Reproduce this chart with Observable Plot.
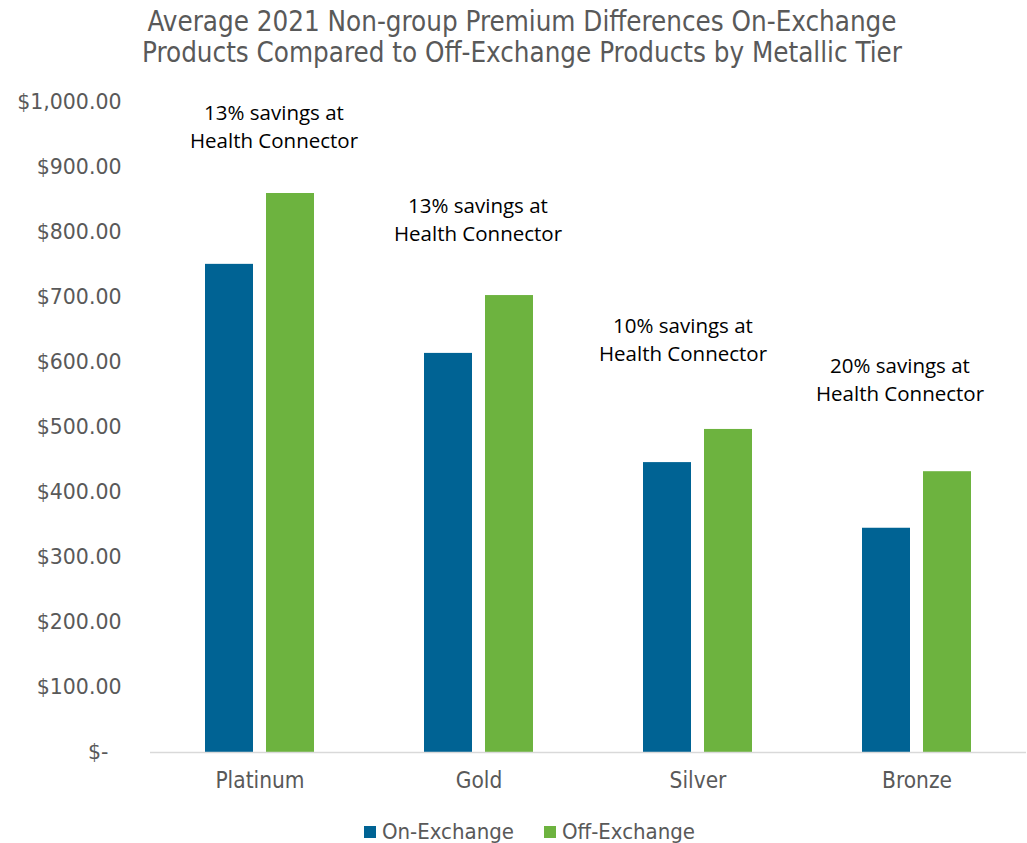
<!DOCTYPE html>
<html>
<head>
<meta charset="utf-8">
<script src="https://cdn.jsdelivr.net/npm/d3@7"></script>
<script src="https://cdn.jsdelivr.net/npm/@observablehq/plot@0.6"></script>
<style>
  body { margin: 0; background: #fff; width: 1027px; overflow: hidden; }
  #title { font-family: "Liberation Sans Narrow", "DejaVu Sans Condensed", sans-serif; font-size: 27.5px; color: #595959; text-align: center; line-height: 31px; padding-top: 6px; height: 69px; padding-left: 17px; box-sizing: content-box; }
  #legend { font-family: "Liberation Sans Narrow", "DejaVu Sans Condensed", sans-serif; font-size: 22px; color: #595959; display: flex; justify-content: center; gap: 30px; padding-left: 32px; padding-top: 13px; line-height: 24px; }
  #legend span.sw { display: inline-block; width: 12px; height: 12px; margin-right: 6px; vertical-align: 1px; }
</style>
</head>
<body>
<div id="title">Average 2021 Non-group Premium Differences On-Exchange<br>Products Compared to Off-Exchange Products by Metallic Tier</div>
<div id="chart"></div>
<div id="legend"></div>
<script>
const tiers = ["Platinum", "Gold", "Silver", "Bronze"];
const series = ["On-Exchange", "Off-Exchange"];
const onExchange = [751, 614, 446, 345];
const offExchange = [860, 703, 497, 432];
const savings = ["13% savings at\nHealth Connector", "13% savings at\nHealth Connector", "10% savings at\nHealth Connector", "20% savings at\nHealth Connector"];
const labelY = [966, 822, 638, 576];
const labelDx = [14, -1, -15, -17];
const colors = ["#006394", "#6db33f"];
const yTicks = [0, 100, 200, 300, 400, 500, 600, 700, 800, 900, 1000];

const data = [];
tiers.forEach((t, i) => {
  data.push({tier: t, series: series[0], value: onExchange[i]});
  data.push({tier: t, series: series[1], value: offExchange[i]});
});

const fmt = d => d === 0 ? "$-\u00a0\u00a0" : "$" + d3.format(",.2f")(d);

const annots = tiers.map((t, i) =>
  Plot.text([{tier: t, y: labelY[i], label: savings[i]}], {
    fx: "tier", y: "y", text: "label", dx: labelDx[i],
    fontSize: 20.5, fill: "#000", lineHeight: 1.37,
    fontFamily: "Open Sans, sans-serif"
  })
);

const chart = Plot.plot({
  width: 1027,
  height: 732,
  marginLeft: 149,
  marginRight: 0,
  marginTop: 27,
  marginBottom: 55,
  style: {background: "#fff"},
  fx: {domain: tiers, padding: 0, label: null, axis: null},
  x: {domain: series, paddingInner: 0.21, paddingOuter: 0.875, axis: null},
  y: {domain: [0, 1000], axis: null},
  color: {domain: series, range: colors},
  marks: [
    Plot.axisY({ticks: yTicks, tickFormat: fmt, tickSize: 0, tickPadding: 29, label: null,
      fontSize: 20.5, fill: "#595959", fontFamily: "DejaVu Sans, sans-serif"}),
    Plot.axisFx({anchor: "bottom", tickSize: 0, tickPadding: 20, label: null, fontSize: 22.5, fill: "#595959",
      fontFamily: "Liberation Sans Narrow, DejaVu Sans Condensed, sans-serif"}),
    Plot.barY(data, {fx: "tier", x: "series", y: "value", fill: "series"}),
    Plot.ruleY([0], {stroke: "#d9d9d9", strokeWidth: 1.5}),
    ...annots
  ]
});
document.getElementById("chart").appendChild(chart);

const legend = document.getElementById("legend");
series.forEach((s, i) => {
  const item = document.createElement("div");
  item.innerHTML = `<span class="sw" style="background:${colors[i]}"></span>${s}`;
  legend.appendChild(item);
});
</script>
</body>
</html>
